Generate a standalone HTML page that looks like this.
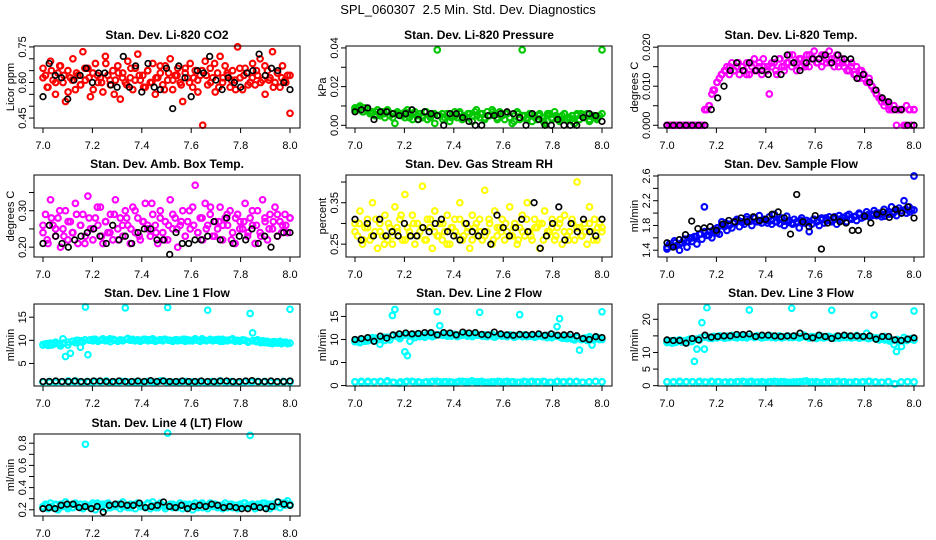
<!DOCTYPE html>
<html><head><meta charset="utf-8"><style>
body{margin:0;background:#fff}
svg{display:block;font-family:"Liberation Sans",Arial,sans-serif}
</style></head><body>
<svg id="chart" width="936" height="540" viewBox="0 0 936 540">
<rect width="936" height="540" fill="#fff"/>
<text x="468" y="14" text-anchor="middle" font-size="13" xml:space="preserve">SPL_060307  2.5 Min. Std. Dev. Diagnostics</text>
</svg>
<script>
const xTicks=[7.0,7.2,7.4,7.6,7.8,8.0];
const xTickLabels=["7.0","7.2","7.4","7.6","7.8","8.0"];

const co2Red=[0.66,0.63,0.58,0.69,0.61,0.55,0.64,0.67,0.60,0.52,0.65,0.62,0.70,0.57,0.63,0.59,0.73,0.61,0.66,0.54,0.64,0.68,0.60,0.62,0.56,0.71,0.63,0.59,0.65,0.61,0.67,0.53,0.64,0.60,0.69,0.62,0.57,0.66,0.72,0.61,0.63,0.58,0.65,0.60,0.68,0.55,0.62,0.64,0.59,0.67,0.61,0.70,0.57,0.63,0.66,0.60,0.52,0.64,0.62,0.68,0.58,0.65,0.61,0.63,0.42,0.69,0.59,0.66,0.62,0.56,0.64,0.71,0.60,0.67,0.63,0.58,0.65,0.61,0.75,0.62,0.57,0.66,0.64,0.60,0.68,0.59,0.63,0.70,0.61,0.55,0.65,0.62,0.73,0.60,0.64,0.58,0.67,0.61,0.63,0.47];
const co2Red2=[0.62,0.58,0.65,0.60,0.67,0.63,0.56,0.61,0.64,0.59,0.66,0.62,0.57,0.63,0.60,0.68,0.61,0.55,0.64,0.62,0.59,0.66,0.61,0.63,0.58,0.65,0.60,0.62,0.67,0.57,0.64,0.61,0.63,0.59,0.66,0.60,0.62,0.56,0.65,0.63,0.60,0.68,0.58,0.62,0.64,0.61,0.57,0.66,0.63,0.59,0.62,0.65,0.60,0.67,0.61,0.58,0.64,0.62,0.60,0.63];
const co2Black=[0.54,0.68,0.63,0.62,0.53,0.61,0.63,0.66,0.60,0.64,0.64,0.59,0.58,0.71,0.58,0.67,0.56,0.68,0.58,0.57,0.66,0.49,0.67,0.62,0.54,0.65,0.64,0.71,0.61,0.57,0.62,0.60,0.58,0.64,0.65,0.72,0.63,0.66,0.65,0.60,0.57];

const presGreen=[0.009,0.008,0.010,0.007,0.009,0.008,0.006,0.007,0.005,0.008,0.006,0.007,0.004,0.008,0.005,0.006,0.001,0.007,0.006,0.005,0.004,0.008,0.006,0.003,0.007,0.005,0.006,0.004,0.007,0.003,0.005,0.006,0.001,0.039,0.005,0.006,0.004,0.006,0.002,0.005,0.007,0.004,0.006,0.003,0.005,0.004,0.006,0.002,0.007,0.005,0.004,0.006,0.003,0.007,0.005,0.008,0.006,0.004,0.007,0.005,0.003,0.006,0.004,0.001,0.005,0.007,0.003,0.039,0.005,0.004,0.006,0.002,0.005,0.003,0.006,0.004,0.001,0.005,0.006,0.003,0.007,0.004,0.002,0.005,0.006,0.003,0.004,0.005,0.001,0.006,0.003,0.005,0.004,0.006,0.002,0.005,0.004,0.003,0.005,0.039];
const presGreen2=[0.008,0.009,0.007,0.008,0.006,0.007,0.005,0.006,0.007,0.004,0.006,0.005,0.007,0.004,0.006,0.003,0.005,0.007,0.004,0.006,0.005,0.003,0.006,0.004,0.005,0.007,0.004,0.006,0.005,0.008,0.006,0.004,0.005,0.007,0.003,0.005,0.006,0.004,0.002,0.006,0.005,0.003,0.006,0.004,0.005,0.002,0.006,0.004,0.005,0.003,0.006,0.004,0.002,0.005,0.006,0.004,0.003,0.005,0.004,0.006];
const presBlack=[0.007,0.008,0.009,0.003,0.007,0.007,0.006,0.005,0.006,0.008,0.003,0.007,0.006,0.005,0.000,0.006,0.006,0.004,0.002,0.000,0.000,0.005,0.005,0.006,0.007,0.006,0.004,0.000,0.006,0.003,0.000,0.000,0.003,0.000,0.000,0.000,0.004,0.006,0.005,0.002];

const tempMag=[0,0,0,0,0,0,0,0,0,0,0,0,0,0,0,0,0.004,0.005,0.008,0.009,0.011,0.012,0.013,0.014,0.015,0.013,0.016,0.014,0.015,0.013,0.015,0.014,0.016,0.013,0.015,0.017,0.014,0.016,0.013,0.015,0.014,0.008,0.015,0.016,0.013,0.017,0.015,0.014,0.016,0.018,0.015,0.016,0.014,0.017,0.015,0.016,0.018,0.015,0.017,0.019,0.016,0.017,0.015,0.018,0.016,0.019,0.017,0.015,0.018,0.016,0.017,0.015,0.016,0.014,0.016,0.013,0.015,0.012,0.014,0.013,0.011,0.012,0.010,0.009,0.008,0.007,0.006,0.005,0.006,0.004,0.004,0.005,0.000,0.004,0.004,0.000,0.005,0.004,0.000,0.004];
const tempMag2=[0,0,0,0,0,0,0,0,0,0.004,0.005,0.009,0.011,0.013,0.014,0.015,0.014,0.016,0.015,0.013,0.016,0.014,0.015,0.017,0.015,0.016,0.014,0.017,0.015,0.016,0.018,0.016,0.017,0.015,0.018,0.017,0.016,0.018,0.017,0.016,0.017,0.015,0.016,0.014,0.015,0.013,0.014,0.012,0.011,0.010,0.008,0.007,0.006,0.005,0.004,0.004,0.004,0.000,0.004,0.004];
const tempBlack=[0,0,0,0,0,0,0,0.004,0.007,0.010,0.014,0.016,0.014,0.016,0.014,0.014,0.013,0.017,0.013,0.018,0.016,0.014,0.016,0.017,0.017,0.018,0.016,0.018,0.017,0.017,0.012,0.013,0.011,0.009,0.007,0.006,0.004,0.004,0.000,0.000];

const ambMag=[0.24,0.29,0.21,0.33,0.26,0.23,0.28,0.20,0.25,0.30,0.22,0.27,0.24,0.32,0.21,0.26,0.29,0.23,0.34,0.25,0.22,0.28,0.26,0.31,0.21,0.27,0.24,0.29,0.22,0.33,0.25,0.28,0.23,0.30,0.26,0.21,0.31,0.24,0.28,0.22,0.27,0.32,0.25,0.23,0.29,0.26,0.21,0.30,0.24,0.27,0.22,0.33,0.25,0.28,0.20,0.26,0.30,0.23,0.27,0.25,0.31,0.37,0.24,0.28,0.22,0.32,0.26,0.29,0.23,0.27,0.25,0.31,0.22,0.28,0.26,0.30,0.24,0.21,0.29,0.27,0.25,0.32,0.23,0.28,0.26,0.21,0.30,0.24,0.33,0.27,0.22,0.29,0.25,0.31,0.23,0.27,0.26,0.29,0.24,0.28];
const ambMag2=[0.26,0.22,0.28,0.25,0.30,0.23,0.27,0.24,0.29,0.26,0.21,0.28,0.25,0.31,0.23,0.27,0.24,0.29,0.22,0.26,0.28,0.25,0.30,0.23,0.27,0.26,0.32,0.24,0.28,0.22,0.26,0.29,0.25,0.27,0.23,0.30,0.26,0.24,0.28,0.25,0.31,0.23,0.27,0.26,0.29,0.22,0.28,0.25,0.27,0.24,0.30,0.26,0.23,0.28,0.25,0.27,0.29,0.24,0.26,0.28];
const ambBlack=[0.21,0.26,0.23,0.21,0.20,0.22,0.23,0.24,0.25,0.23,0.21,0.26,0.22,0.23,0.21,0.24,0.25,0.25,0.22,0.22,0.18,0.24,0.21,0.21,0.22,0.22,0.23,0.27,0.22,0.28,0.21,0.23,0.22,0.25,0.21,0.23,0.20,0.23,0.24,0.24];

const rhYellow=[0.30,0.27,0.33,0.25,0.29,0.31,0.26,0.35,0.28,0.24,0.30,0.27,0.32,0.26,0.29,0.25,0.34,0.28,0.31,0.26,0.37,0.29,0.27,0.32,0.25,0.30,0.28,0.39,0.26,0.31,0.29,0.24,0.33,0.27,0.30,0.26,0.28,0.32,0.25,0.29,0.31,0.27,0.35,0.26,0.30,0.28,0.24,0.32,0.29,0.27,0.31,0.26,0.38,0.28,0.30,0.25,0.33,0.27,0.29,0.31,0.26,0.28,0.34,0.27,0.30,0.25,0.29,0.32,0.27,0.35,0.28,0.26,0.31,0.29,0.24,0.30,0.33,0.27,0.28,0.31,0.26,0.29,0.30,0.25,0.32,0.27,0.28,0.31,0.26,0.40,0.29,0.27,0.30,0.25,0.34,0.28,0.31,0.26,0.30,0.29];
const rhYellow2=[0.28,0.30,0.26,0.29,0.27,0.31,0.28,0.25,0.30,0.27,0.29,0.32,0.26,0.28,0.30,0.27,0.29,0.26,0.31,0.28,0.27,0.30,0.25,0.29,0.28,0.31,0.27,0.29,0.26,0.30,0.28,0.27,0.31,0.26,0.29,0.28,0.30,0.27,0.29,0.26,0.28,0.31,0.27,0.29,0.30,0.26,0.28,0.29,0.27,0.31,0.28,0.26,0.30,0.29,0.27,0.28,0.30,0.26,0.29,0.28];
const rhBlack=[0.31,0.26,0.30,0.27,0.31,0.27,0.28,0.27,0.30,0.27,0.27,0.29,0.28,0.30,0.31,0.28,0.27,0.26,0.30,0.28,0.27,0.28,0.25,0.32,0.29,0.27,0.29,0.31,0.28,0.35,0.24,0.27,0.30,0.34,0.26,0.30,0.28,0.31,0.28,0.27,0.31];

const flowBlue=[1.42,1.50,1.46,1.55,1.48,1.40,1.52,1.58,1.45,1.60,1.54,1.62,1.50,1.66,1.58,2.10,1.64,1.70,1.60,1.74,1.68,1.66,1.86,1.78,1.72,1.80,1.76,1.84,1.90,1.78,1.86,1.82,1.94,1.88,1.80,1.92,1.86,1.96,1.84,1.90,1.88,1.94,1.82,1.98,1.86,1.90,1.92,1.80,1.95,1.88,1.84,1.90,1.86,1.76,1.92,1.84,1.88,1.70,1.82,1.90,1.86,1.80,1.92,1.84,1.88,1.94,1.86,1.90,1.82,1.96,1.88,1.92,1.86,1.98,1.90,1.94,1.88,2.00,1.92,1.96,2.02,1.94,1.98,2.04,1.96,2.00,1.94,2.06,2.00,1.98,2.10,2.02,1.96,2.08,2.04,2.20,2.00,2.10,2.06,2.60];
const flowBlue2=[1.45,1.48,1.52,1.50,1.56,1.55,1.60,1.62,1.66,1.70,1.64,1.72,1.76,1.80,1.84,1.82,1.86,1.88,1.85,1.90,1.87,1.92,1.86,1.90,1.84,1.88,1.86,1.83,1.87,1.85,1.82,1.86,1.88,1.84,1.86,1.90,1.87,1.89,1.92,1.88,1.94,1.90,1.93,1.96,1.92,1.95,1.98,1.94,1.97,1.96,2.00,1.98,1.95,2.02,1.99,2.04,2.00,2.06,2.02,2.05];
const flowBlack=[1.52,1.45,1.57,1.65,1.87,1.75,1.76,1.78,1.72,1.82,1.88,1.86,1.92,1.86,1.94,1.88,1.90,1.98,2.02,1.92,1.66,2.30,1.86,1.78,1.96,1.42,1.84,1.93,1.86,1.84,1.72,1.72,1.95,1.84,1.98,2.02,1.93,2.06,2.00,2.10,1.92];

const line1Cyan=[9.0,9.2,8.9,9.4,9.1,9.6,9.3,8.8,10.3,6.5,9.0,7.2,9.8,9.5,10.0,8.5,9.7,17.2,6.9,10.1,9.9,10.2,9.8,10.0,10.3,9.9,10.1,9.7,10.2,10.0,9.8,10.1,9.9,17.0,10.4,10.0,10.2,9.9,10.1,9.8,10.0,10.2,9.9,10.1,10.3,9.8,10.0,10.1,9.9,10.2,17.1,10.0,9.8,10.1,9.9,10.0,10.2,9.8,10.1,10.0,9.9,10.3,10.0,9.8,10.1,10.0,16.5,10.2,9.9,10.1,10.0,9.8,10.2,10.0,9.9,10.1,10.3,9.8,10.0,9.9,10.1,10.0,9.8,15.8,11.6,9.9,10.1,9.7,9.9,9.5,9.8,9.6,9.3,9.7,9.4,9.8,9.5,9.6,9.3,16.7];
const line1Cyan2=[9.1,9.3,9.0,9.5,9.2,9.4,9.6,9.8,10.0,9.9,10.1,10.0,10.2,9.9,10.1,10.0,10.3,10.1,9.9,10.0,10.2,10.1,9.9,10.0,10.2,10.1,10.0,9.9,10.1,10.2,10.0,9.8,10.1,10.0,10.2,9.9,10.1,10.0,10.3,9.9,10.1,10.0,10.2,9.8,10.0,10.1,9.9,9.8,10.0,9.6,9.9,9.7,9.5,9.8,9.4,9.7,9.5,9.3,9.6,9.4];
const line1Low=[1.0,1.1,0.9,1.0,1.2,1.0,0.9,1.1,1.0,1.0,1.2,0.9,1.0,1.1,1.0,0.9,1.0,1.1,1.0,1.2,1.0,0.9,1.1,1.0,1.0,1.1,0.9,1.0,1.2,1.0,1.0,0.9,1.1,1.0,1.0,1.1,1.0,0.9,1.0,1.1];
const line1Low2=[1.0,0.9,1.1,1.0,1.0,1.2,0.9,1.0,1.1,1.0,0.9,1.0,1.1,1.0,1.0,0.9,1.1,1.0,1.2,1.0,0.9,1.0,1.1,1.0,1.0,0.9,1.1,1.0,1.0,1.1,0.9,1.0,1.0,1.1,1.0,0.9,1.0,1.1,1.0];
const line1Black=[1.1,1.1,1.2,1.1,1.1,1.2,1.1,1.1,1.2,1.2,1.1,1.1,1.2,1.1,1.1,1.2,1.1,1.3,1.1,1.2,1.1,1.1,1.2,1.1,1.1,1.2,1.1,1.1,1.2,1.2,1.1,1.1,1.2,1.3,1.1,1.1,1.2,1.1,1.1,1.2];

const line2Cyan=[9.5,9.8,9.3,10.0,9.6,10.2,9.9,10.4,9.7,10.1,9.0,10.3,9.8,10.5,9.9,15.2,16.5,10.6,10.2,10.8,7.3,6.5,9.6,10.7,10.4,11.0,10.6,10.9,10.5,11.1,10.8,10.6,11.0,16.0,13.0,10.9,11.2,10.7,11.0,10.8,11.1,10.6,11.0,10.9,11.3,10.7,11.0,10.8,11.1,10.9,15.9,10.7,11.0,10.6,10.9,11.1,10.5,10.8,11.0,10.7,10.9,10.6,11.0,10.8,10.5,10.9,15.4,10.7,11.0,10.6,10.8,10.9,10.5,10.7,11.0,10.6,10.8,10.4,10.7,10.5,10.9,12.8,14.5,10.3,10.7,10.2,10.5,10.1,9.9,10.4,7.7,10.0,10.3,9.8,10.6,8.8,10.2,10.5,10.0,16.0];
const line2Cyan2=[9.6,9.4,9.9,9.7,10.1,10.3,10.0,10.5,10.4,10.7,10.9,10.6,11.0,10.8,11.1,10.9,10.7,11.0,11.2,10.8,11.0,10.9,11.1,10.7,11.0,10.8,11.1,10.9,10.6,10.9,11.0,10.7,10.9,10.6,10.8,11.0,10.7,10.9,10.5,10.8,10.6,10.9,10.7,10.5,10.8,10.6,10.9,10.4,10.7,10.5,10.3,10.6,10.2,10.4,10.0,10.3,10.1,9.9,10.2,10.0];
const line2Low=[0.8,0.9,0.7,0.8,0.9,0.8,0.7,0.5,0.8,0.9,0.8,0.7,0.8,0.9,0.8,0.8,0.7,0.9,0.8,0.8,0.9,0.7,0.8,0.8,0.9,0.8,0.7,0.8,0.9,0.8,0.8,0.7,0.9,0.8,0.8,0.9,0.7,0.8,0.9,0.8];
const line2Low2=[0.8,0.7,0.9,0.8,0.8,1.0,0.7,0.8,0.9,0.8,0.7,0.8,0.9,0.8,0.8,0.7,0.9,0.8,1.0,0.8,0.7,0.8,0.9,0.8,0.8,0.7,0.9,0.8,0.8,0.9,0.7,0.8,0.8,0.9,0.8,0.7,0.8,0.9,0.8];
const line2Black=[10.0,10.2,10.4,9.6,10.7,10.3,11.0,11.2,11.4,11.2,11.3,11.5,11.5,11.0,11.5,11.4,11.0,11.6,11.4,11.5,11.1,11.0,11.6,11.2,11.0,10.9,11.1,11.0,11.1,11.2,10.9,11.2,10.9,11.0,11.1,10.8,10.2,10.0,10.6,10.4];

const line3Cyan=[13.0,13.4,12.8,13.6,13.2,13.8,13.1,13.5,12.9,14.0,13.3,7.3,11.0,13.7,19.0,11.0,23.5,14.6,14.2,14.8,14.4,15.0,14.6,14.3,14.9,14.5,15.1,14.7,14.4,14.9,14.6,15.0,14.4,22.8,14.8,14.5,15.0,14.7,14.4,14.9,14.6,15.1,14.5,14.8,14.6,15.0,14.4,14.7,14.9,14.5,23.3,14.6,14.9,14.4,14.8,15.2,14.6,14.3,14.8,14.5,14.2,14.7,14.9,14.4,14.6,14.8,22.7,14.5,14.9,14.3,14.7,15.0,14.5,14.8,14.4,14.6,15.1,14.3,14.7,14.5,15.8,14.2,14.6,21.3,14.4,13.8,14.2,14.8,14.0,13.5,13.8,12.4,10.3,13.4,11.8,14.5,13.6,13.9,14.2,22.5];
const line3Cyan2=[13.2,13.5,13.0,13.6,13.3,13.8,13.5,14.0,14.4,14.6,14.3,14.8,14.5,14.7,14.4,14.9,14.6,14.8,14.5,14.7,14.9,14.6,14.8,14.5,14.7,14.9,14.4,14.8,14.6,14.9,14.5,14.7,14.6,14.8,14.4,14.7,14.9,14.5,14.8,14.6,14.3,14.7,14.5,14.8,14.4,14.6,14.3,14.7,14.2,14.5,14.0,14.3,13.8,14.1,13.6,13.9,13.5,13.8,14.0,13.7];
const line3Low=[1.2,1.0,1.3,1.1,1.2,1.0,1.1,1.3,1.2,1.0,1.1,1.2,1.3,1.1,1.0,1.2,1.1,1.3,1.2,1.0,1.1,1.2,1.4,1.1,1.0,1.2,1.1,1.3,1.2,1.0,1.1,1.2,1.3,1.1,1.0,1.2,0.5,1.1,1.2,1.1];
const line3Low2=[1.1,1.2,1.0,1.2,1.1,1.3,1.0,1.1,1.2,1.1,1.0,1.2,1.1,1.3,1.1,1.0,1.2,1.1,1.2,1.0,1.1,1.3,1.1,1.2,1.0,1.1,1.2,1.1,1.0,1.2,1.1,1.3,1.1,1.0,1.2,0.6,1.1,1.2,1.1];
const line3Black=[13.8,13.6,13.6,12.8,14.2,13.8,15.2,14.6,14.8,15.0,15.0,15.4,15.4,15.6,14.8,15.2,15.2,15.0,14.8,15.0,15.0,15.8,14.8,14.4,15.2,14.8,14.2,15.0,15.2,15.0,15.0,14.8,15.0,14.0,14.8,14.8,13.8,13.6,14.0,14.4];

const line4Cyan=[0.23,0.25,0.21,0.26,0.22,0.24,0.20,0.25,0.23,0.27,0.21,0.24,0.22,0.26,0.23,0.25,0.21,0.79,0.24,0.22,0.26,0.20,0.24,0.23,0.25,0.21,0.26,0.22,0.24,0.23,0.25,0.21,0.27,0.23,0.22,0.25,0.24,0.21,0.26,0.23,0.24,0.22,0.25,0.21,0.27,0.23,0.22,0.26,0.24,0.21,0.89,0.25,0.22,0.24,0.23,0.26,0.21,0.25,0.22,0.24,0.20,0.26,0.23,0.25,0.22,0.24,0.21,0.26,0.23,0.25,0.22,0.24,0.21,0.26,0.23,0.25,0.22,0.24,0.21,0.25,0.23,0.26,0.22,0.87,0.24,0.21,0.25,0.23,0.26,0.22,0.24,0.21,0.25,0.23,0.27,0.22,0.26,0.24,0.28,0.25];
const line4Cyan2=[0.22,0.24,0.23,0.25,0.22,0.24,0.23,0.25,0.24,0.22,0.25,0.23,0.24,0.26,0.23,0.25,0.22,0.24,0.25,0.23,0.24,0.22,0.25,0.24,0.23,0.26,0.24,0.22,0.25,0.23,0.24,0.25,0.22,0.24,0.23,0.25,0.24,0.22,0.26,0.23,0.24,0.25,0.23,0.24,0.22,0.25,0.24,0.23,0.26,0.24,0.25,0.23,0.24,0.26,0.25,0.24,0.27,0.25,0.26,0.24];
const line4Black=[0.21,0.22,0.21,0.24,0.25,0.25,0.22,0.23,0.21,0.23,0.18,0.24,0.25,0.25,0.24,0.24,0.26,0.22,0.23,0.24,0.27,0.23,0.22,0.24,0.21,0.23,0.24,0.23,0.25,0.24,0.22,0.23,0.22,0.21,0.21,0.23,0.22,0.21,0.23,0.27,0.25,0.24];

const co2Ticks=[0.45,0.50,0.55,0.60,0.65,0.70,0.75], co2TickLabels=["0.45","","","0.60","","","0.75"];
const presTicks=[0,0.01,0.02,0.03,0.04], presTickLabels=["0.00","","0.02","","0.04"];
const tempTicks=[0,0.005,0.010,0.015,0.020], tempTickLabels=["0.000","","0.010","","0.020"];
const ambTicks=[0.20,0.25,0.30,0.35], ambTickLabels=["0.20","","0.30",""];
const rhTicks=[0.25,0.30,0.35,0.40], rhTickLabels=["0.25","","0.35",""];
const flowTicks=[1.4,1.6,1.8,2.0,2.2,2.4,2.6], flowTickLabels=["1.4","","1.8","","2.2","","2.6"];
const l1Ticks=[5,10,15], l1TickLabels=["5","10","15"];
const l2Ticks=[0,5,10,15], l2TickLabels=["0","5","10","15"];
const l3Ticks=[0,5,10,15,20], l3TickLabels=["0","5","10","","20"];
const l4Ticks=[0.2,0.3,0.4,0.5,0.6,0.7,0.8], l4TickLabels=["0.2","","0.4","","0.6","","0.8"];

const panels=[
 {name:"co2",title:"Stan. Dev. Li-820 CO2",ylab:"Licor ppm",col:0,row:0,ylim:[0.408,0.754],ticks:co2Ticks,labels:co2TickLabels,series:[[co2Red,"#ff0000"],[co2Red2,"#ff0000"],[co2Black,"#000"]]},
 {name:"pressure",title:"Stan. Dev. Li-820 Pressure",ylab:"kPa",col:1,row:0,ylim:[-0.0014,0.041],ticks:presTicks,labels:presTickLabels,series:[[presGreen,"#00c800"],[presGreen2,"#00c800"],[presBlack,"#000"]]},
 {name:"temp",title:"Stan. Dev. Li-820 Temp.",ylab:"degrees C",col:2,row:0,ylim:[-0.0007,0.0203],ticks:tempTicks,labels:tempTickLabels,series:[[tempMag,"#ff00ff"],[tempMag2,"#ff00ff"],[tempBlack,"#000"]]},
 {name:"amb-box-temp",title:"Stan. Dev. Amb. Box Temp.",ylab:"degrees C",col:0,row:1,ylim:[0.173,0.398],ticks:ambTicks,labels:ambTickLabels,series:[[ambMag,"#ff00ff"],[ambMag2,"#ff00ff"],[ambBlack,"#000"]]},
 {name:"gas-rh",title:"Stan. Dev. Gas Stream RH",ylab:"percent",col:1,row:1,ylim:[0.219,0.417],ticks:rhTicks,labels:rhTickLabels,series:[[rhYellow,"#ffff00"],[rhYellow2,"#ffff00"],[rhBlack,"#000"]]},
 {name:"sample-flow",title:"Stan. Dev. Sample Flow",ylab:"ml/min",col:2,row:1,ylim:[1.29,2.616],ticks:flowTicks,labels:flowTickLabels,series:[[flowBlue,"#0000ff"],[flowBlue2,"#0000ff"],[flowBlack,"#000"]]},
 {name:"line1",title:"Stan. Dev. Line 1 Flow",ylab:"ml/min",col:0,row:2,ylim:[0.13,17.85],ticks:l1Ticks,labels:l1TickLabels,series:[[line1Cyan,"#00ffff"],[line1Cyan2,"#00ffff"],[line1Low,"#00ffff"],[line1Low2,"#00ffff"],[line1Black,"#000"]]},
 {name:"line2",title:"Stan. Dev. Line 2 Flow",ylab:"ml/min",col:1,row:2,ylim:[-0.1,17.7],ticks:l2Ticks,labels:l2TickLabels,series:[[line2Cyan,"#00ffff"],[line2Cyan2,"#00ffff"],[line2Low,"#00ffff"],[line2Low2,"#00ffff"],[line2Black,"#000"]]},
 {name:"line3",title:"Stan. Dev. Line 3 Flow",ylab:"ml/min",col:2,row:2,ylim:[-0.1,24.6],ticks:l3Ticks,labels:l3TickLabels,series:[[line3Cyan,"#00ffff"],[line3Cyan2,"#00ffff"],[line3Low,"#00ffff"],[line3Low2,"#00ffff"],[line3Black,"#000"]]},
 {name:"line4",title:"Stan. Dev. Line 4 (LT) Flow",ylab:"ml/min",col:0,row:3,ylim:[0.144,0.883],ticks:l4Ticks,labels:l4TickLabels,series:[[line4Cyan,"#00ffff"],[line4Cyan2,"#00ffff"],[line4Black,"#000"]]}
];

const NS="http://www.w3.org/2000/svg";
const svg=document.getElementById('chart');
const rowTops=[46,175,304,434];
function mk(tag,attrs,parent){const e=document.createElementNS(NS,tag);for(const k in attrs)e.setAttribute(k,attrs[k]);parent.appendChild(e);return e;}
panels.forEach(p=>{
  const L=34+312*p.col,R=300+312*p.col,T=rowTops[p.row],B=T+82;
  const xs=v=>43+312*p.col+(v-7)*247;
  const ys=v=>B-(v-p.ylim[0])/(p.ylim[1]-p.ylim[0])*(B-T);
  const g=mk('g',{},svg);
  
  
  const t=mk('text',{x:(L+R)/2,y:T-7,'text-anchor':'middle','font-size':12,'font-weight':'bold'},g);
  
  
  t.textContent=p.title;
  const yl=mk('text',{transform:`translate(${L-20},${(T+B)/2}) rotate(-90)`,'text-anchor':'middle','font-size':11},g);
  
  
  yl.textContent=p.ylab;
  p.series.forEach(([vals,color])=>{
    const n=vals.length;
    const sw=color==="#000"?1.7:2.1;
    vals.forEach((v,i)=>{
      const c=mk('circle',{cx:xs(7+i/(n-1)).toFixed(1),cy:ys(v).toFixed(1),r:2.8,fill:'none',stroke:color,'stroke-width':sw},g);
      
      
    });
  });
  const box=mk('rect',{x:L,y:T,width:R-L,height:B-T,fill:'none',stroke:'#000','stroke-width':1},g);
  
  
  const xa=mk('g',{},g);
  
  
  xTicks.forEach((v,i)=>{
    mk('line',{x1:xs(v),x2:xs(v),y1:B,y2:B+5,stroke:'#000'},xa);
    const tl=mk('text',{x:xs(v),y:B+21,'text-anchor':'middle','font-size':11},xa);
    
    
    tl.textContent=xTickLabels[i];
  });
  const ya=mk('g',{},g);
  
  
  p.ticks.forEach((v,i)=>{
    const y=ys(v);
    mk('line',{x1:L-5,x2:L,y1:y,y2:y,stroke:'#000'},ya);
    if(p.labels[i]){
      const tl=mk('text',{transform:`translate(${L-8},${y}) rotate(-90)`,'text-anchor':'middle','font-size':11},ya);
      
      
      tl.textContent=p.labels[i];
    }
  });
});
</script>
</body></html>
